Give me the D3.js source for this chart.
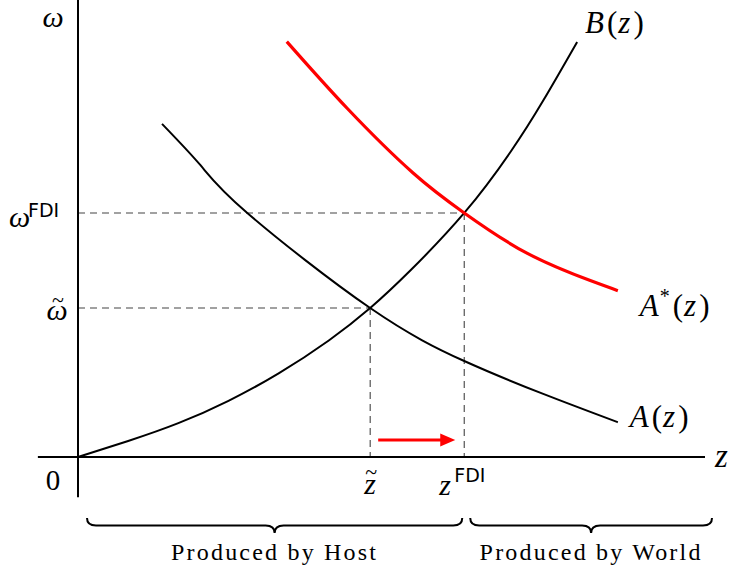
<!DOCTYPE html>
<html>
<head>
<meta charset="utf-8">
<script src="https://cdn.jsdelivr.net/npm/d3@7/dist/d3.min.js"></script>
<style>
  html, body { margin: 0; padding: 0; background: #fff; }
  svg { display: block; }
  .math { font-family: "Liberation Serif", "Times New Roman", serif; font-style: italic; }
  .sf { font-family: "DejaVu Sans", "Liberation Sans", sans-serif; font-style: normal; }
  .rm { font-family: "Liberation Serif", "Times New Roman", serif; }
</style>
</head>
<body>
<svg id="chart" width="731" height="571"></svg>
<script>
// Wage curve B(z): rising
const bZ = [0, 0.8, 1.6, 2.4, 3.2, 4.0, 4.66, 5.3, 6.16, 6.9, 7.42, 7.96];
const bW = [0, 0.35, 0.74, 1.23, 1.83, 2.55, 3.26, 4.08, 5.34, 6.68, 7.8, 9.08];

// Host curve A(z): falling
const aZ = [1.34, 1.95, 2.70, 4.66, 6.16, 7.42, 8.61];
const aW = [7.29, 6.39, 5.34, 3.26, 2.10, 1.38, 0.76];

// World curve A*(z): falling, shifted outward
const sZ = [3.33, 4.30, 5.34, 6.16, 7.16, 8.17, 8.61];
const sW = [9.09, 7.62, 6.22, 5.34, 4.46, 3.86, 3.64];

// Equilibria: [z, omega]
const eqTilde = [4.66, 3.26];
const eqFDI = [6.16, 5.34];

const regionLabels = ["Produced by Host", "Produced by World"];

const svg = d3.select("#chart");

const x = d3.scaleLinear().domain([0, 10]).range([78, 705]);
const y = d3.scaleLinear().domain([0, 10]).range([457, 0]);

const line = d3.line()
  .x(d => x(d[0]))
  .y(d => y(d[1]))
  .curve(d3.curveNatural);

const zip = (zs, ws) => zs.map((z, i) => [z, ws[i]]);
const bPts = zip(bZ, bW), aPts = zip(aZ, aW), sPts = zip(sZ, sW);

// Dashed guides to each equilibrium
const guides = svg.append("g")
  .attr("stroke", "#444")
  .attr("stroke-width", 1.1)
  .attr("stroke-dasharray", "7,5")
  .attr("fill", "none");
[eqTilde, eqFDI].forEach(([ez, ew]) => {
  guides.append("line")
    .attr("x1", x(0)).attr("x2", x(ez))
    .attr("y1", y(ew)).attr("y2", y(ew));
  guides.append("line")
    .attr("x1", x(ez)).attr("x2", x(ez))
    .attr("y1", y(ew)).attr("y2", y(0));
});

// Axes
svg.append("line")
  .attr("x1", x(-0.64)).attr("x2", x(10))
  .attr("y1", y(0)).attr("y2", y(0))
  .attr("stroke", "#000").attr("stroke-width", 2);
svg.append("line")
  .attr("x1", x(0)).attr("x2", x(0))
  .attr("y1", y(10)).attr("y2", y(-0.88))
  .attr("stroke", "#000").attr("stroke-width", 2);

// Curves
svg.append("path").attr("d", line(aPts))
  .attr("fill", "none").attr("stroke", "#000").attr("stroke-width", 2);
svg.append("path").attr("d", line(bPts))
  .attr("fill", "none").attr("stroke", "#000").attr("stroke-width", 2);
svg.append("path").attr("d", line(sPts))
  .attr("fill", "none").attr("stroke", "#ff0000").attr("stroke-width", 3.2);

// Shift arrow from z-tilde towards z-FDI
const arrowY = y(0) - 17;
const ax0 = x(eqTilde[0]) + 8, ax1 = x(eqFDI[0]) - 9;
svg.append("line")
  .attr("x1", ax0).attr("x2", ax1 - 12)
  .attr("y1", arrowY).attr("y2", arrowY)
  .attr("stroke", "#ff0000").attr("stroke-width", 3);
svg.append("path")
  .attr("d", `M${ax1},${arrowY} L${ax1 - 15},${arrowY - 6.5} L${ax1 - 15},${arrowY + 6.5} Z`)
  .attr("fill", "#ff0000");

// Labels
const T = (cls, tx, ty, str, size, anchor) => svg.append("text")
  .attr("class", cls).attr("x", tx).attr("y", ty)
  .attr("font-size", size).attr("text-anchor", anchor || "start")
  .text(str);

// axis labels
T("math", x(0) - 25, 27, "ω", 30, "middle");
T("math", x(10) + 10, y(0) + 10, "z", 33);
T("rm", x(0) - 25, 490, "0", 29, "middle");

// curve labels: base letter, optional superscript, then (z)
const lab = (px, py, base, sup) => {
  const t = svg.append("text").attr("class", "math").attr("x", px).attr("y", py).attr("font-size", 31);
  t.append("tspan").text(base);
  if (sup) t.append("tspan").attr("font-size", 20).attr("font-style", "normal").attr("dx", 1).attr("dy", -13).text("*");
  t.append("tspan").attr("font-style", "normal").attr("dx", 3).attr("dy", sup ? 13 : 0).text("(");
  t.append("tspan").attr("dx", 1).text("z");
  t.append("tspan").attr("font-style", "normal").attr("dx", 3).text(")");
};
const bEnd = bPts[bPts.length - 1], aEnd = aPts[aPts.length - 1], sEnd = sPts[sPts.length - 1];
lab(x(bEnd[0]) + 8, y(bEnd[1]) - 9, "B");
lab(x(sEnd[0]) + 22, y(sEnd[1]) + 25, "A", "*");
lab(x(aEnd[0]) + 12, y(aEnd[1]) + 5, "A");

// equilibrium labels on the vertical axis
T("math", x(0) - 21, y(eqTilde[1]) + 12, "ω", 30, "middle");
T("rm", x(0) - 20, y(eqTilde[1]) - 1, "~", 22, "middle");
T("math", x(0) - 69, y(eqFDI[1]) + 14, "ω", 30);
T("sf", x(0) - 50, y(eqFDI[1]) + 4, "FDI", 19);

// equilibrium labels on the horizontal axis
T("math", x(eqTilde[0]), y(0) + 37, "z", 30, "middle");
T("rm", x(eqTilde[0]) + 1, y(0) + 22, "~", 22, "middle");
T("math", x(eqFDI[0]) - 25, y(0) + 38, "z", 30);
T("sf", x(eqFDI[0]) - 10, y(0) + 25, "FDI", 19);

// Braces under the axis
const brace = (x0, x1, top, h) => {
  const m = (x0 + x1) / 2, yl = top + h / 2, q = 9;
  return `M${x0},${top} Q${x0},${yl} ${x0 + q},${yl} L${m - q},${yl} Q${m},${yl} ${m},${top + h}` +
         ` Q${m},${yl} ${m + q},${yl} L${x1 - q},${yl} Q${x1},${yl} ${x1},${top}`;
};
const braceTop = 518, braceH = 15;
const spans = [[x(0) + 9, x(eqFDI[0]) - 2], [x(eqFDI[0]) + 6, x(10) + 7]];
spans.forEach(([b0, b1], i) => {
  svg.append("path").attr("d", brace(b0, b1, braceTop, braceH))
    .attr("fill", "none").attr("stroke", "#000").attr("stroke-width", 2);
  T("rm", (b0 + b1) / 2, 560, regionLabels[i], 24, "middle")
    .attr("letter-spacing", 2.2);
});
</script>
</body>
</html>
